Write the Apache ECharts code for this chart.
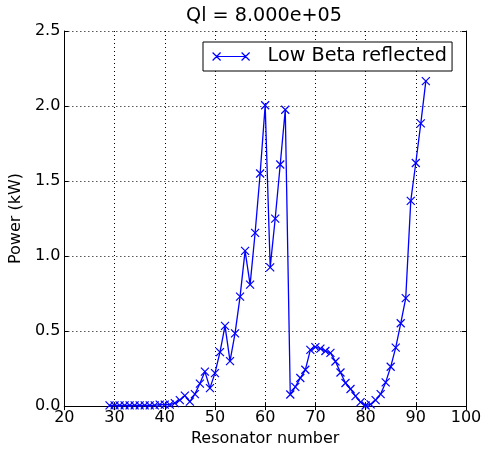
<!DOCTYPE html>
<html><head><meta charset="utf-8">
<script src="https://cdn.jsdelivr.net/npm/echarts@6/dist/echarts.min.js"></script>
<style>html,body{margin:0;padding:0;background:#fff}#c{width:485px;height:452px}</style>
</head><body><div id="c"></div>
<script>
const titleText = 'Ql = 8.000e+05';
const seriesName = 'Low Beta reflected';
const resonators = [29,30,31,32,33,34,35,36,37,38,39,40,41,42,43,44,45,46,47,48,49,50,51,52,53,54,55,56,57,58,59,60,61,62,63,64,65,66,67,68,69,70,71,72,73,74,75,76,77,78,79,80,81,82,83,84,85,86,87,88,89,90,91,92];
const reflected = [0.005,0.005,0.005,0.005,0.005,0.005,0.005,0.005,0.005,0.005,0.01,0.01,0.01,0.02,0.04,0.07,0.03,0.08,0.15,0.23,0.12,0.22,0.36,0.535,0.30,0.485,0.73,1.035,0.81,1.155,1.55,2.005,0.925,1.25,1.61,1.975,0.077,0.128,0.187,0.242,0.375,0.393,0.383,0.367,0.355,0.297,0.224,0.154,0.114,0.066,0.026,0.004,0.011,0.04,0.08,0.158,0.262,0.39,0.552,0.72,1.368,1.62,1.884,2.166];
const xTicks = [20,30,40,50,60,70,80,90,100];
const yTicks = [0.0,0.5,1.0,1.5,2.0,2.5];

const font = 'DejaVu Sans';
const blue = '#0000ff';
const baseSize = 16;
const largeSize = 19.2;
const chart = echarts.init(document.getElementById('c'), null, {renderer: 'canvas'});
const tickCommon = {show: true, inside: true, length: 4, lineStyle: {color: '#000', width: 1}};
const split = {show: true, lineStyle: {color: '#000', type: [1, 3], width: 1}};
chart.setOption({
  animation: false,
  backgroundColor: '#fff',
  title: {text: titleText, left: 264, textAlign: 'center', top: 7, padding: 0,
    textStyle: {fontFamily: font, fontSize: largeSize, fontWeight: 'normal', color: '#000'}},
  grid: {left: 62, top: 31, right: 19, bottom: 42, containLabel: false},
  legend: {
    data: [seriesName], left: 203, top: 42,
    padding: [5, 5, 5, 9], borderColor: '#000', borderWidth: 1, borderRadius: 0,
    backgroundColor: '#fff', itemWidth: 37, itemHeight: 8, selectedMode: false,
    icon: 'path://M0,0L8,8M8,0L0,8M4,4L33,4M29,0L37,8M37,0L29,8',
    itemStyle: {color: 'transparent', borderColor: blue, borderWidth: 1.2},
    textStyle: {fontFamily: font, fontSize: largeSize, color: '#000', padding: [0, 0, 0, 13]}
  },
  xAxis: [{
    type: 'value', min: xTicks[0], max: xTicks[xTicks.length - 1], interval: 10,
    name: 'Resonator number', nameLocation: 'middle', nameGap: 23,
    nameTextStyle: {fontFamily: font, fontSize: baseSize, color: '#000'},
    axisLine: {show: true, lineStyle: {color: '#000', width: 1}},
    axisTick: tickCommon, splitLine: split,
    axisLabel: {fontFamily: font, fontSize: baseSize, color: '#000', margin: 4}
  }, {
    type: 'value', position: 'top', min: xTicks[0], max: xTicks[xTicks.length - 1], interval: 10,
    axisLine: {show: true, lineStyle: {color: '#000', width: 1}},
    axisTick: tickCommon, splitLine: {show: false}, axisLabel: {show: false}
  }],
  yAxis: [{
    type: 'value', min: yTicks[0], max: yTicks[yTicks.length - 1], interval: 0.5,
    name: 'Power (kW)', nameLocation: 'middle', nameGap: 31,
    nameTextStyle: {fontFamily: font, fontSize: baseSize, color: '#000'},
    axisLine: {show: true, lineStyle: {color: '#000', width: 1}},
    axisTick: tickCommon, splitLine: split,
    axisLabel: {fontFamily: font, fontSize: baseSize, color: '#000', margin: 4,
      formatter: v => v.toFixed(1)}
  }, {
    type: 'value', position: 'right', min: yTicks[0], max: yTicks[yTicks.length - 1], interval: 0.5,
    axisLine: {show: true, lineStyle: {color: '#000', width: 1}},
    axisTick: tickCommon, splitLine: {show: false}, axisLabel: {show: false}
  }],
  series: [{
    name: seriesName, type: 'line',
    data: resonators.map((r, i) => [r, reflected[i]]),
    symbol: 'path://M0,0L10,10M10,0L0,10', symbolSize: 8, showAllSymbol: true,
    lineStyle: {color: blue, width: 1.3},
    itemStyle: {color: 'transparent', borderColor: blue, borderWidth: 1.2},
    emphasis: {disabled: true}, silent: true, clip: false
  }]
});
</script></body></html>
